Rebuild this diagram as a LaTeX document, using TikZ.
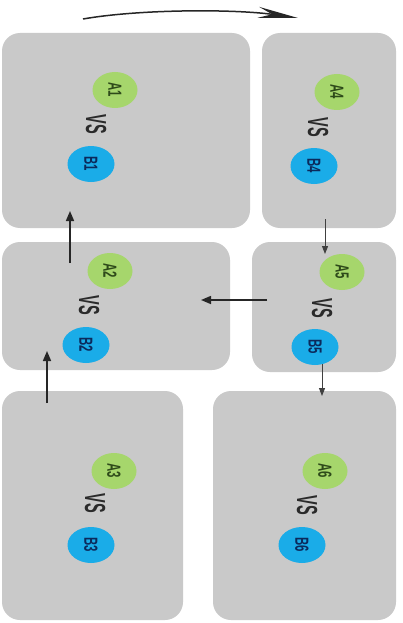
\documentclass[tikz,border=0pt]{standalone}
\usepackage{fontspec}
\setmainfont{Liberation Sans}
\usetikzlibrary{arrows.meta,shapes.geometric}
\definecolor{boxgray}{HTML}{C9C9C9}
\definecolor{agreen}{HTML}{A6D66C}
\definecolor{bblue}{HTML}{1AACE8}
\definecolor{agtext}{HTML}{2E4A1A}
\definecolor{bbtext}{HTML}{0B2A5C}
\definecolor{vstext}{HTML}{2A2A2A}
\begin{document}
\begin{tikzpicture}[x=1pt,y=-1pt,
  panel/.style={fill=boxgray, draw=none, rounded corners=18pt, inner sep=0pt},
  aball/.style={ellipse, fill=agreen, draw=none, minimum width=36pt, minimum height=45pt, inner sep=0pt, text=agtext, font=\fontsize{19}{19}\selectfont\bfseries, rotate=-90},
  bball/.style={ellipse, fill=bblue, draw=none, minimum width=36pt, minimum height=47pt, inner sep=0pt, text=bbtext, font=\fontsize{19}{19}\selectfont\bfseries, rotate=-90},
  vs/.style={inner sep=0pt, text=vstext, font=\fontsize{29}{29}\selectfont\bfseries, rotate=-90},
  arr/.style={draw=black!85, line width=1.5pt, -{Triangle[length=10pt,width=8pt]}},
  thinarr/.style={draw=black!75, line width=1pt, -{Triangle[length=8pt,width=6pt]}},
  bigarr/.style={draw=black!85, line width=1.5pt, -{Stealth[length=40pt,width=11pt,inset=14pt]}}
]
\useasboundingbox (0,0) rectangle (403,623);
\fill[white] (0,0) rectangle (403,623);

% panels
\node[panel, minimum width=248pt, minimum height=195pt] (p1) at (126,130.5) {};
\node[panel, minimum width=134pt, minimum height=195pt] (p4) at (329,130.5) {};
\node[panel, minimum width=228pt, minimum height=128pt] (p2) at (116,306) {};
\node[panel, minimum width=144pt, minimum height=130pt] (p5) at (324,307) {};
\node[panel, minimum width=181pt, minimum height=229pt] (p3) at (92.5,505.5) {};
\node[panel, minimum width=183pt, minimum height=229pt] (p6) at (304.5,505.5) {};

% contents
\node[aball] (a1) at (115,90) {\scalebox{0.6}[1]{A1}};
\node[vs] (v1) at (96,124) {\scalebox{0.5}[1]{VS}};
\node[bball] (b1) at (91,164) {\scalebox{0.6}[1]{B1}};

\node[aball] (a4) at (337,92) {\scalebox{0.6}[1]{A4}};
\node[vs] (v4) at (318,127) {\scalebox{0.5}[1]{VS}};
\node[bball] (b4) at (314,166) {\scalebox{0.6}[1]{B4}};

\node[aball] (a2) at (110,271) {\scalebox{0.6}[1]{A2}};
\node[vs] (v2) at (89,305) {\scalebox{0.5}[1]{VS}};
\node[bball] (b2) at (86,345) {\scalebox{0.6}[1]{B2}};

\node[aball] (a5) at (342,272) {\scalebox{0.6}[1]{A5}};
\node[vs] (v5) at (322,308) {\scalebox{0.5}[1]{VS}};
\node[bball] (b5) at (315,347) {\scalebox{0.6}[1]{B5}};

\node[aball] (a3) at (114,471) {\scalebox{0.6}[1]{A3}};
\node[vs] (v3) at (95,503) {\scalebox{0.5}[1]{VS}};
\node[bball] (b3) at (91,545) {\scalebox{0.6}[1]{B3}};

\node[aball] (a6) at (325,471) {\scalebox{0.6}[1]{A6}};
\node[vs] (v6) at (307,505) {\scalebox{0.5}[1]{VS}};
\node[bball] (b6) at (302,545) {\scalebox{0.6}[1]{B6}};

% connector ends
\coordinate (t1) at (83,19);
\coordinate (t2) at (298,18);
\coordinate (u1s) at (70,263);
\coordinate (u1e) at (70,211);
\coordinate (d4s) at (325,219);
\coordinate (d4e) at (325,254);
\coordinate (l5s) at (267,300);
\coordinate (l5e) at (201,300);
\coordinate (u3s) at (47,403);
\coordinate (u3e) at (47,351);
\coordinate (d5s) at (322,364);
\coordinate (d5e) at (322,396);

% connectors
\draw[bigarr] (t1) .. controls (140,9) and (235,9) .. (t2);
\draw[arr] (u1s) -- (u1e);
\draw[thinarr] (d4s) -- (d4e);
\draw[arr] (l5s) -- (l5e);
\draw[arr] (u3s) -- (u3e);
\draw[thinarr] (d5s) -- (d5e);
\end{tikzpicture}
\end{document}
